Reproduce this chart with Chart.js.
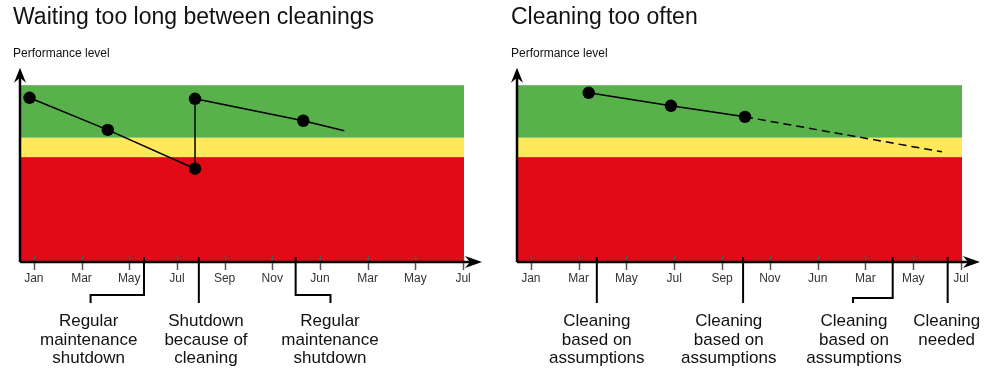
<!DOCTYPE html>
<html>
<head>
<meta charset="utf-8">
<script src="https://cdn.jsdelivr.net/npm/chart.js@4/dist/chart.umd.min.js"></script>
<style>
  html, body { margin: 0; padding: 0; background: #fff; }
  #wrap { position: relative; width: 1000px; height: 378px; overflow: hidden; }
  .box { position: absolute; top: 0; width: 500px; height: 378px; }
  #boxL { left: 0; }
  #boxR { left: 498px; }
</style>
</head>
<body>
<div id="wrap">
  <div class="box" id="boxL"><canvas id="cL" width="500" height="378"></canvas></div>
  <div class="box" id="boxR"><canvas id="cR" width="500" height="378"></canvas></div>
</div>
<script>
// ---------- DATA ----------
const monthLabels = ['Jan', 'Mar', 'May', 'Jul', 'Sep', 'Nov', 'Jun', 'Mar', 'May', 'Jul'];
const tickPositions = [0, 1, 2, 3, 4, 5, 6, 7, 8, 9];

// performance bands (lower, upper) : red, yellow, green
const bandLower = [0, 54, 64];
const bandUpper = [54, 64, 91];
const bandNames = ['poor', 'warning', 'good'];

// left chart: "Waiting too long between cleanings"
const leftX = [-0.09, 1.55, 3.38, 3.38, 5.65, 6.51];
const leftY = [84.5, 68, 48, 84, 72.7, 67.5];
const leftMarker = [1, 1, 1, 1, 1, 0];
const leftAnnLineX = [2.31, 3.46, 5.49];
const leftAnnFootX = [1.19, null, 6.22];
const leftAnnTextX = [1.15, 3.61, 6.21];
const leftAnnText = [
  ['Regular', 'maintenance', 'shutdown'],
  ['Shutdown', 'because of', 'cleaning'],
  ['Regular', 'maintenance', 'shutdown']
];

// right chart: "Cleaning too often"
const rightX = [1.21, 2.93, 4.48];
const rightY = [87.1, 80.4, 74.7];
const rightProjX = [4.48, 8.6];
const rightProjY = [74.7, 56.7];
const rightAnnLineX = [1.38, 4.44, 7.57, 8.72];
const rightAnnFootX = [null, null, 6.74, null];
const rightAnnTextX = [1.38, 4.14, 6.76, 8.70];
const rightAnnText = [
  ['Cleaning', 'based on', 'assumptions'],
  ['Cleaning', 'based on', 'assumptions'],
  ['Cleaning', 'based on', 'assumptions'],
  ['Cleaning', 'needed']
];

// ---------- STYLE ----------
const FONT = "'Liberation Sans', Arial, Helvetica, sans-serif";
const bandColors = ['#e20a17', '#ffe85a', '#58b14b'];

function zip(xs, ys) { return xs.map((x, i) => ({ x: x, y: ys[i] })); }

const bandsPlugin = {
  id: 'bands',
  beforeDatasetsDraw(chart) {
    const { ctx, chartArea, scales } = chart;
    ctx.save();
    for (let i = 0; i < bandLower.length; i++) {
      const yTop = scales.y.getPixelForValue(bandUpper[i]);
      const yBot = scales.y.getPixelForValue(bandLower[i]);
      ctx.fillStyle = bandColors[i];
      ctx.fillRect(chartArea.left, yTop, chartArea.right - chartArea.left, yBot - yTop);
    }
    ctx.restore();
  }
};

const axesPlugin = {
  id: 'axesArrows',
  afterDraw(chart, args, opts) {
    const { ctx, chartArea, scales } = chart;
    const x0 = chartArea.left, y0 = chartArea.bottom;
    ctx.save();
    // tick marks
    ctx.strokeStyle = '#555';
    ctx.lineWidth = 1.5;
    tickPositions.forEach(v => {
      const px = Math.round(scales.x.getPixelForValue(v)) + 0.5;
      ctx.beginPath();
      ctx.moveTo(px, y0 - 6);
      ctx.lineTo(px, y0 + 8);
      ctx.stroke();
    });
    // tick labels
    ctx.fillStyle = '#333';
    ctx.font = '12px ' + FONT;
    ctx.textAlign = 'center';
    ctx.textBaseline = 'middle';
    tickPositions.forEach((v, i) => {
      ctx.fillText(monthLabels[i], scales.x.getPixelForValue(v), y0 + 17);
    });
    // axes
    ctx.strokeStyle = '#000';
    ctx.fillStyle = '#000';
    ctx.lineWidth = 2.5;
    const xEnd = chartArea.right + 18;
    const yEnd = chartArea.top;
    ctx.beginPath();
    ctx.moveTo(x0, y0);
    ctx.lineTo(xEnd - 6, y0);
    ctx.moveTo(x0, y0);
    ctx.lineTo(x0, yEnd + 6);
    ctx.stroke();
    // arrow heads
    ctx.beginPath();
    ctx.moveTo(xEnd, y0);
    ctx.lineTo(xEnd - 17, y0 - 6);
    ctx.lineTo(xEnd - 12, y0);
    ctx.lineTo(xEnd - 17, y0 + 6);
    ctx.closePath();
    ctx.fill();
    ctx.beginPath();
    ctx.moveTo(x0, yEnd);
    ctx.lineTo(x0 - 6, yEnd + 15);
    ctx.lineTo(x0, yEnd + 10);
    ctx.lineTo(x0 + 6, yEnd + 15);
    ctx.closePath();
    ctx.fill();

    // annotations
    const ann = opts.ann;
    ctx.lineWidth = 2;
    ctx.strokeStyle = '#000';
    ann.lineX.forEach((lx, i) => {
      const px = scales.x.getPixelForValue(lx);
      const foot = ann.footX[i];
      ctx.beginPath();
      ctx.moveTo(px, y0 - 5);
      if (foot === null) {
        ctx.lineTo(px, y0 + 41);
      } else {
        const fx = scales.x.getPixelForValue(foot);
        ctx.lineTo(px, y0 + ann.elbow);
        ctx.lineTo(fx, y0 + ann.elbow);
        ctx.lineTo(fx, y0 + 41);
      }
      ctx.stroke();
    });
    ctx.fillStyle = '#111';
    ctx.font = '17px ' + FONT;
    ctx.textAlign = 'center';
    ctx.textBaseline = 'alphabetic';
    ann.textX.forEach((tx, i) => {
      const px = scales.x.getPixelForValue(tx);
      ann.text[i].forEach((line, j) => {
        ctx.fillText(line, px, y0 + 64 + j * 18.5);
      });
    });
    ctx.restore();
  }
};

function makeChart(id, title, datasets, ann, yWidth) {
  return new Chart(document.getElementById(id), {
    type: 'scatter',
    data: { datasets: datasets },
    plugins: [bandsPlugin, axesPlugin],
    options: {
      responsive: false,
      animation: false,
      events: [],
      layout: { padding: { left: 13, right: 36, top: 0, bottom: 116 } },
      scales: {
        x: { type: 'linear', min: -0.29, max: 9.02, display: false },
        y: {
          type: 'linear', min: 0, max: 100, display: true,
          ticks: { display: false }, grid: { display: false }, border: { display: false },
          afterFit(scale) { scale.width = yWidth; }
        }
      },
      plugins: {
        legend: { display: false },
        tooltip: { enabled: false },
        title: {
          display: true, text: title, align: 'start', color: '#111',
          font: { family: FONT, size: 23, weight: 'normal', lineHeight: 1.2 },
          padding: { top: 4, bottom: 0 }
        },
        subtitle: {
          display: true, text: 'Performance level', align: 'start', color: '#111',
          font: { family: FONT, size: 12, weight: 'normal', lineHeight: 1.2 },
          padding: { top: 14.4, bottom: 7.3 }
        },
        axesArrows: { ann: ann }
      }
    }
  });
}

makeChart('cL', 'Waiting too long between cleanings', [
  {
    data: zip(leftX, leftY), showLine: true, borderColor: '#000', borderWidth: 1.5,
    backgroundColor: '#000', pointBackgroundColor: '#000', pointBorderWidth: 0,
    pointRadius: leftMarker.map(m => m ? 6.2 : 0), tension: 0
  }
], { lineX: leftAnnLineX, footX: leftAnnFootX, textX: leftAnnTextX, text: leftAnnText, elbow: 33 }, 7);

makeChart('cR', 'Cleaning too often', [
  {
    data: zip(rightProjX, rightProjY), showLine: true, borderColor: '#000', borderWidth: 1.5,
    borderDash: [8, 5], pointRadius: 0, tension: 0
  },
  {
    data: zip(rightX, rightY), showLine: true, borderColor: '#000', borderWidth: 1.5,
    backgroundColor: '#000', pointBackgroundColor: '#000', pointBorderWidth: 0,
    pointRadius: 6.2, tension: 0
  }
], { lineX: rightAnnLineX, footX: rightAnnFootX, textX: rightAnnTextX, text: rightAnnText, elbow: 36 }, 6);
</script>
</body>
</html>
